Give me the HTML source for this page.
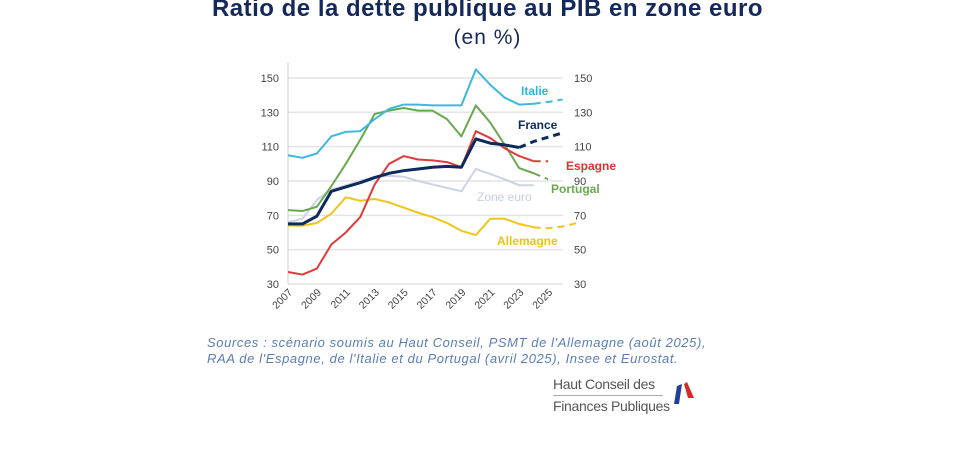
<!DOCTYPE html>
<html><head><meta charset="utf-8"><style>
body{margin:0;background:#fff;width:975px;height:472px;overflow:hidden;position:relative;font-family:"Liberation Sans",sans-serif}
.t{position:absolute;left:0;width:975px;text-align:center;color:#14285a}
</style></head><body>
<div class="t" style="top:-5px;font-size:24px;font-weight:bold;letter-spacing:0.5px">Ratio de la dette publique au PIB en zone euro</div>
<div class="t" style="top:26px;font-size:21px;color:#14285a;letter-spacing:1px">(en %)</div>
<svg id="c" width="975" height="472" style="position:absolute;left:0;top:0"></svg>
<div style="position:absolute;left:207px;top:335px;font-size:13px;font-style:italic;color:#5a7db5;line-height:16px;letter-spacing:0.6px;white-space:nowrap">Sources : scénario soumis au Haut Conseil, PSMT de l'Allemagne (août 2025),<br>RAA de l'Espagne, de l'Italie et du Portugal (avril 2025), Insee et Eurostat.</div>
<div style="position:absolute;left:553px;top:373px;font-size:14px;color:#555;line-height:22px;letter-spacing:-0.3px">Haut Conseil des<br>Finances Publiques</div>
<div style="position:absolute;left:553px;top:395px;width:110px;height:1px;background:#aaa"></div>
<svg style="position:absolute;left:668px;top:380px" width="30" height="26"><polygon points="6,24 9,6 14,4 11,24" fill="#1f3f99"/><polygon points="16,4 19,2 26,18 20,18" fill="#d42a2a"/></svg>
<script>
var s='',x0=288,dx=14.45;function Y(v){return 284-(v-30)*1.717}function X(i){return x0+i*dx}
for(var v=30;v<=150;v+=20){var y=Y(v);s+='<line x1="288" x2="563" y1="'+y+'" y2="'+y+'" stroke="#e4e4e4" stroke-width="1.5"/>';
s+='<text x="279" y="'+(y+4)+'" font-size="11" text-anchor="end" fill="#444">'+v+'</text><text x="574" y="'+(y+4)+'" font-size="11" fill="#444">'+v+'</text>';}
s+='<line x1="288" x2="288" y1="62" y2="284" stroke="#ccc"/>';
for(var yr=2007;yr<=2025;yr+=2){var x=X(yr-2007);s+='<text transform="translate('+(x+5)+',293) rotate(-45)" font-size="10.5" text-anchor="end" fill="#444">'+yr+'</text>';}
function draw(d,n,c,w){var p=d.map(function(v,i){return X(i)+','+Y(v)});
s+='<polyline points="'+p.slice(0,n).join(' ')+'" fill="none" stroke="'+c+'" stroke-width="'+w+'" stroke-linejoin="round"/>';
if(n<d.length)s+='<polyline points="'+p.slice(n-1).join(' ')+'" fill="none" stroke="'+c+'" stroke-width="'+w+'" stroke-dasharray="7,5"/>';}
draw([66,68,79,85,87.5,90,92.5,93,92.5,90,88,86,84,97,94,91,87.5,87.5],18,'#cdd2e4',2);
draw([64,64,65.5,71,80.5,78.5,79.5,77.5,74.5,71.5,69,65.5,61,58.5,68,68,65,63,62.5,63.5,65.5],18,'#f0c419',2);
draw([73,72.5,75,87,100,114,129,131,132.5,131,131,126,116,134,124,111,97.5,94.5,91],18,'#6aa84f',2);
draw([37,35.5,39,53,60,69,88,100,104.5,102.5,102,101,98,119,115,109,104.5,101.5,101.5],18,'#e03a3a',2);
draw([105,103.5,106,116,118.6,119,126,132,134.5,134.5,134,134,134,155,146,138.5,134.5,135,136,137.5],18,'#3db8df',2);
draw([65,65,69.5,84,86.5,89,92,94.5,96,97,98,98.5,98,114.5,112,111,109.5,113,115.5,118],17,'#0d2a5c',3);
function T(x,y,t,c){s+='<text x="'+x+'" y="'+y+'" font-size="12" font-weight="bold" fill="'+c+'">'+t+'</text>';}
T(521,95,'Italie','#29b5e0');T(518,129,'France','#0d2a5c');T(566,170,'Espagne','#e03030');T(551,193,'Portugal','#6aa84f');
s+='<text x="477" y="201" font-size="12" fill="#c8cde0">Zone euro</text>';T(497,245,'Allemagne','#eec21a');
document.getElementById('c').innerHTML=s;
</script>
</body></html>
